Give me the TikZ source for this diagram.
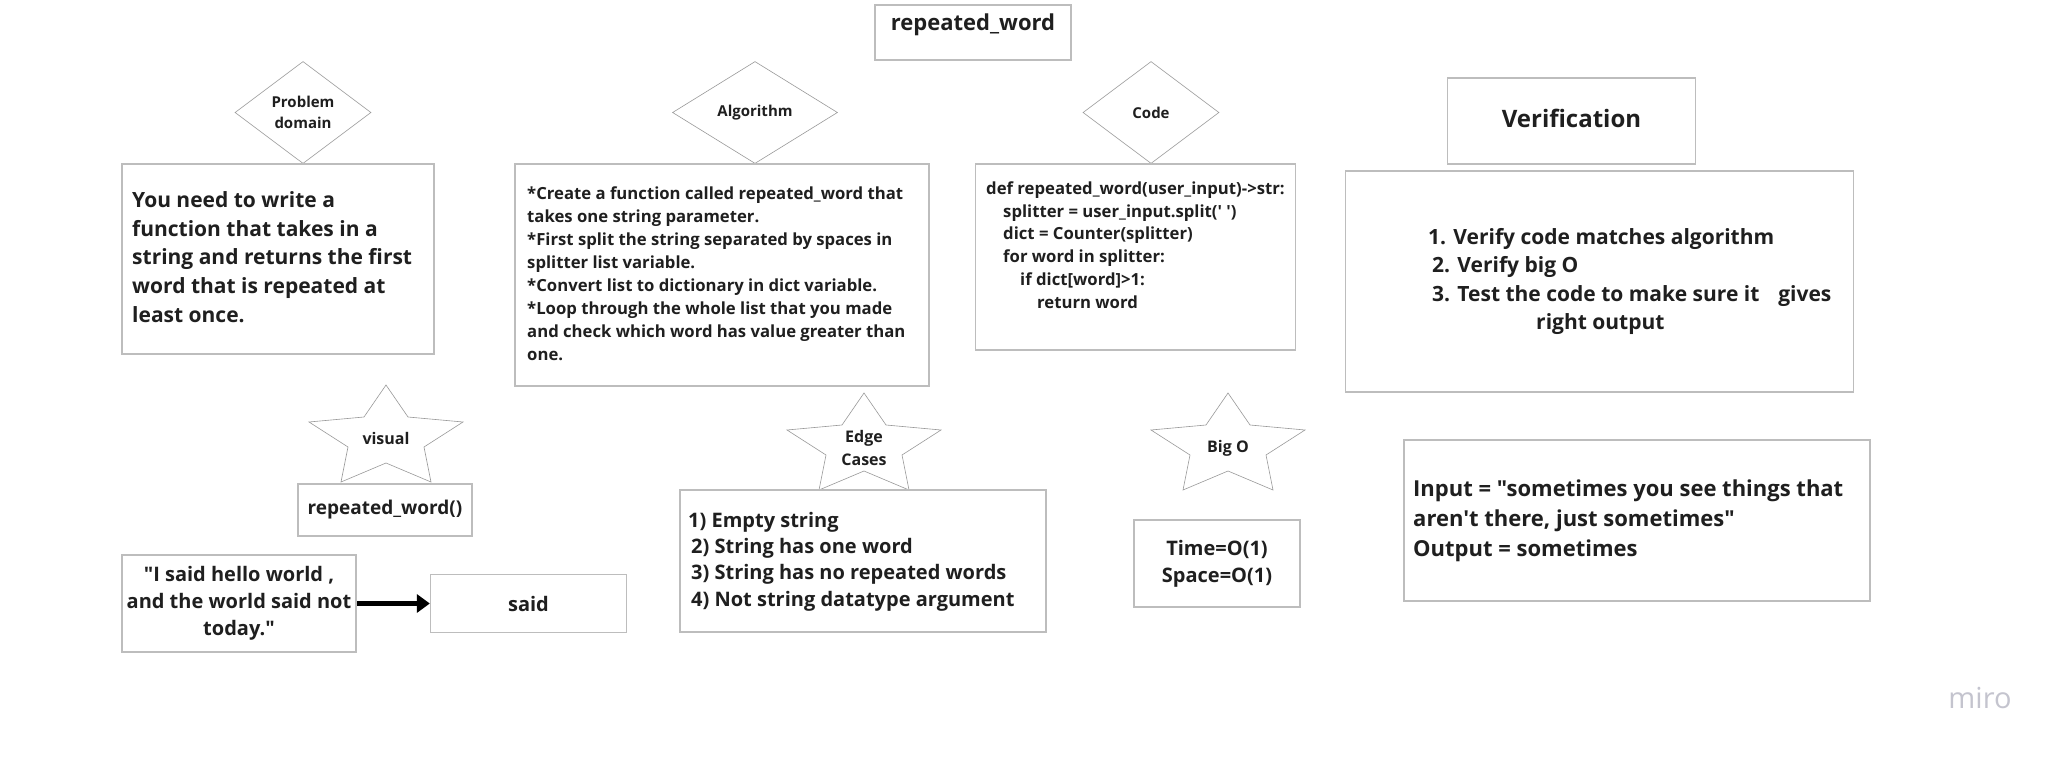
\documentclass[tikz,border=0pt]{standalone}
\usepackage{fontspec}
\newfontfamily\osf{Open Sans}
\usetikzlibrary{shapes.geometric,arrows.meta}
\definecolor{boxline}{gray}{0.74}
\definecolor{thinline}{gray}{0.60}
\definecolor{txt}{gray}{0.12}
\definecolor{mirogray}{RGB}{196,196,206}
\newcommand\setfs[2]{\fontsize{#1}{#2}\selectfont}
\begin{document}
\begin{tikzpicture}[x=1pt,y=-1pt,
  box/.style={draw=boxline, line width=1.3pt, fill=white, inner sep=0pt, text=txt, align=center},
  dia/.style={diamond, draw=thinline, line width=0.6pt, inner sep=0pt, text=txt, align=center,
    font=\osf\bfseries\setfs{15}{21}},
  starline/.style={draw=thinline, line width=0.6pt, line join=miter},
  starlbl/.style={text=txt, align=center, inner sep=0pt, font=\osf\bfseries\setfs{16}{23}},
  bodytext/.style={text=txt, align=left, inner sep=0pt, anchor=west},
  bigarrow/.style={draw=black, line width=4.5pt, -{Triangle[length=13pt,width=18pt]}, shorten <=0.6pt},
  mystar/.pic={\path[starline] (0,0) -- (22,32) -- (77,37) -- (38,62) -- (45,97) -- (0,78)
      -- (-45,97) -- (-38,62) -- (-77,37) -- (-22,32) -- cycle;}
]
\useasboundingbox[fill=white] (0,0) rectangle (2061,757);

% title
\node[box, minimum width=196pt, minimum height=55pt] (title) at (973,32.5) {};
\node[text=txt, inner sep=0pt, font=\osf\bfseries\setfs{22}{28}] (titlelbl) at (973,24.5) {repeated\_word};

% diamonds
\node[dia, minimum width=136pt, minimum height=102pt] (pd) at (303,112.5) {Problem\\domain};
\node[dia, minimum width=165pt, minimum height=102pt] (alg) at (755,112.5) {Algorithm};
\node[dia, minimum width=136pt, minimum height=102pt] (code) at (1151,112.5) {Code};

% top boxes
\node[box, minimum width=312pt, minimum height=190pt] (pdbox) at (278,259) {};
\node[bodytext, font=\osf\bfseries\setfs{21}{28.7}] (pdtext) at (132,257)
  {You need to write a\\function that takes in a\\string and returns the first\\word that is repeated at\\least once.};

\node[box, minimum width=414pt, minimum height=222pt] (algbox) at (722,275) {};
\node[bodytext, font=\osf\bfseries\setfs{16.7}{23}] (algtext) at (527,274)
  {*Create a function called repeated\_word that\\takes one string parameter.\\*First split the string separated by spaces in\\splitter list variable.\\*Convert list to dictionary in dict variable.\\*Loop through the whole list that you made\\and check which word has value greater than\\one.};

\node[box, minimum width=320pt, minimum height=186pt] (codebox) at (1135.5,257) {};
\node[bodytext, font=\osf\bfseries\setfs{16.7}{22.7}] (codetext) at (986,245)
  {def repeated\_word(user\_input)->str:\\
   \hspace*{17pt}splitter = user\_input.split(' ')\\
   \hspace*{17pt}dict = Counter(splitter)\\
   \hspace*{17pt}for word in splitter:\\
   \hspace*{34pt}if dict[word]>1:\\
   \hspace*{51pt}return word};

% verification
\node[box, minimum width=248pt, minimum height=86pt] (verif) at (1571.5,121) {};
\node[text=txt, inner sep=0pt, font=\osf\bfseries\setfs{24}{30}] (veriflbl) at (1571.5,118) {Verification};
\node[box, minimum width=508pt, minimum height=221pt] (verifbox) at (1599.5,281.5) {};
\node[bodytext, font=\osf\bfseries\setfs{21}{28.3}] (veriftext) at (1428,281.5)
  {1. Verify code matches algorithm\\
   \hspace*{4pt}2. Verify big O\\
   \hspace*{4pt}3. Test the code to make sure it\hspace{19pt}gives\\
   \hspace*{108pt}right output};

% stars
\pic at (386,385) {mystar};
\pic at (864,393) {mystar};
\pic at (1228,393) {mystar};
\node[starlbl] (visual) at (386,438) {visual};
\node[starlbl] (edge) at (864,448) {Edge\\Cases};
\node[starlbl] (bigo) at (1228,448) {Big O};

% lower boxes
\node[box, minimum width=174pt, minimum height=52pt, font=\osf\bfseries\setfs{19}{25}] (rw) at (385,510) {repeated\_word()};
\node[box, minimum width=234pt, minimum height=97pt, font=\osf\bfseries\setfs{20}{27}] (quote) at (239,603.5)
  {"I said hello world ,\\and the world said not\\today."};
\node[box, minimum width=196pt, minimum height=58pt, font=\osf\bfseries\setfs{20}{27}] (said) at (528.5,603.5) {said};
\draw[bigarrow] (quote.east) -- (said.west);

\node[box, minimum width=366pt, minimum height=142pt] (edgebox) at (863,561) {};
\node[bodytext, font=\osf\bfseries\setfs{20}{26.3}] (edgetext) at (688,561.5)
  {1) Empty string\\
   \hspace*{3pt}2) String has one word\\
   \hspace*{3pt}3) String has no repeated words\\
   \hspace*{3pt}4) Not string datatype argument};

\node[box, minimum width=166pt, minimum height=87pt, font=\osf\bfseries\setfs{20}{26.7}] (bigobox) at (1217,563.5)
  {Time=O(1)\\Space=O(1)};

\node[box, minimum width=466pt, minimum height=161pt] (inputbox) at (1637,520.5) {};
\node[bodytext, font=\osf\bfseries\setfs{22}{30}] (inputtext) at (1413,521)
  {Input = "sometimes you see things that\\aren't there, just sometimes"\\Output = sometimes};

% logo
\node[text=mirogray, inner sep=0pt, font=\osf\setfs{29}{34}] (miro) at (1980,698) {miro};
\end{tikzpicture}
\end{document}
